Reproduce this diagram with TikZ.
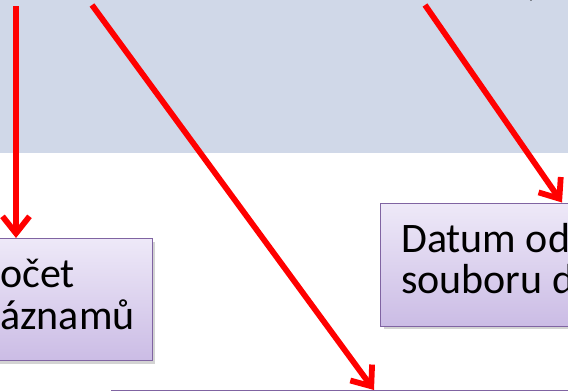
\documentclass[tikz,border=0pt]{standalone}
\usepackage{fontspec}
\setmainfont{Carlito}
\usetikzlibrary{arrows.meta,shadows}
\definecolor{band}{HTML}{D0D8E8}
\definecolor{boxtop}{HTML}{EEE9F8}
\definecolor{boxbot}{HTML}{CBBCE5}
\definecolor{boxline}{HTML}{8064A2}
\tikzset{
  pbox/.style={draw=boxline, line width=1.2pt, top color=boxtop, bottom color=boxbot,
    rectangle, inner sep=0pt,
    drop shadow={opacity=0.35, shadow xshift=3pt, shadow yshift=-3pt}},
  txt/.style={inner sep=0pt, anchor=base west, font=\fontsize{42}{42}\selectfont},
  redarrow/.style={draw=red, line width=5.8pt,
    -{Straight Barb[length=17pt, width=27pt]}}
}
\begin{document}
\begin{tikzpicture}[x=1pt,y=-1pt]
\useasboundingbox (0,0) rectangle (568,391);
\fill[band] (0,0) rectangle (568,152.5);
% top text fragments
\node[txt] (ty) at (29,-7.5) {y};
\node[txt] (tp) at (527,-4.5) {)};
% boxes
\node[pbox, minimum width=213pt, minimum height=122pt, anchor=north east] (cnt) at (153,238) {};
\node[pbox, minimum width=230pt, minimum height=123pt, anchor=north west] (dat) at (380,202.5) {};
\node[pbox, minimum width=500pt, minimum height=80pt, anchor=north west] (bot) at (111,390) {};
% texts
\node[txt] (c1) at (0,287.5) {očet};
\node[txt] (c2) at (0,329) {áznamů};
\node[txt] (d1) at (401,252) {Datum od};
\node[txt] (d2) at (401,293) {souboru d};
% arrows
\coordinate (s1) at (16,6);
\coordinate (s2) at (92,5);
\coordinate (s3) at (425,5);
\coordinate (e2) at (374,390);
\coordinate (e3) at (562,202.5);
\draw[redarrow] (s1) -- (s1 |- cnt.north);
\draw[redarrow] (s2) -- (e2);
\draw[redarrow] (s3) -- (e3);
\end{tikzpicture}
\end{document}
